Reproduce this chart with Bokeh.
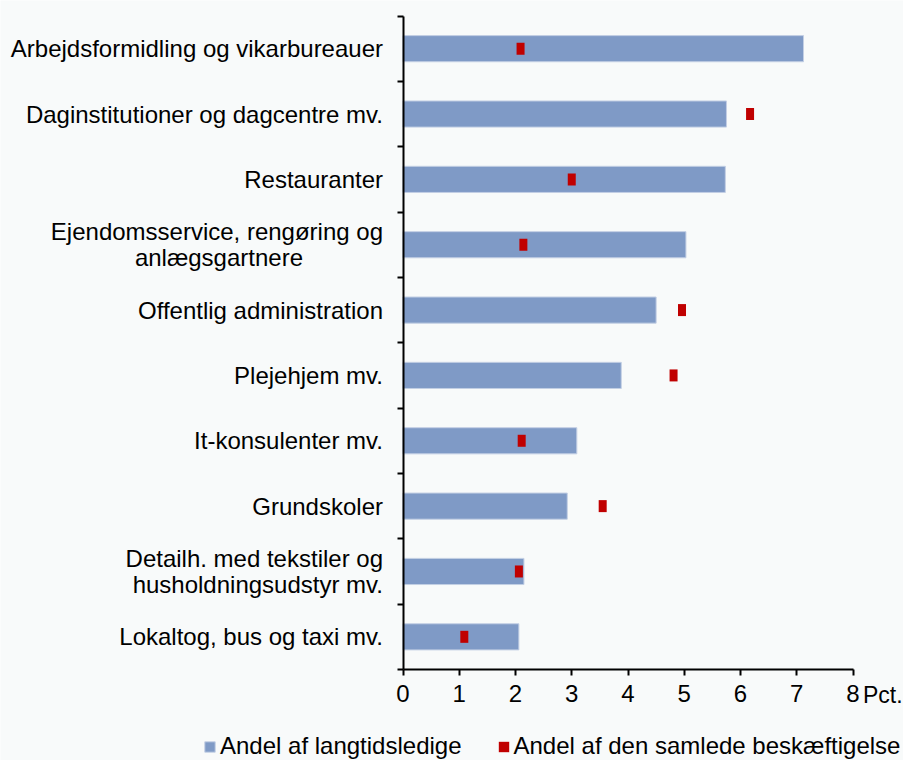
from bokeh.plotting import figure
from bokeh.models import (ColumnDataSource, FixedTicker, Legend, LegendItem, Label, Range1d)
from bokeh.embed import file_html
from bokeh.resources import INLINE

categories = [
    "Arbejdsformidling og vikarbureauer",
    "Daginstitutioner og dagcentre mv.",
    "Restauranter",
    "Ejendomsservice, rengøring og\nanlægsgartnere",
    "Offentlig administration",
    "Plejehjem mv.",
    "It-konsulenter mv.",
    "Grundskoler",
    "Detailh. med tekstiler og\nhusholdningsudstyr mv.",
    "Lokaltog, bus og taxi mv.",
]
langtidsledige = [7.12, 5.75, 5.73, 5.03, 4.50, 3.88, 3.09, 2.92, 2.15, 2.06]
beskaeftigelse = [2.09, 6.17, 3.00, 2.14, 4.96, 4.81, 2.11, 3.55, 2.06, 1.09]
x_ticks = [0, 1, 2, 3, 4, 5, 6, 7, 8]
x_unit = "Pct."
legend_labels = ["Andel af langtidsledige", "Andel af den samlede beskæftigelse"]

# ---- layout (pixels) ----
W, H = 903, 760
FRAME_L, FRAME_R, FRAME_T, FRAME_B = 402.5, 852.5, 15.5, 669.0
X0, X1 = 0.0, 8.0
n = len(categories)
Y0, Y1 = 0.5, n + 0.5
sx = (FRAME_R - FRAME_L) / (X1 - X0)
sy = (FRAME_B - FRAME_T) / (Y1 - Y0)
x_range = Range1d(X0 - FRAME_L / sx, X1 + (W - FRAME_R) / sx)
y_range = Range1d(Y0 - (H - FRAME_B) / sy, Y1 + FRAME_T / sy)

ypos = [n - i for i in range(n)]
# center the shorter second line of wrapped labels (right-aligned axis labels)
line_pad = {3: 12}
tick_text = {}
for i, (y, c) in enumerate(zip(ypos, categories)):
    tick_text[y] = c + "\u00a0" * line_pad.get(i, 0)

src = ColumnDataSource(dict(y=ypos, cat=categories, v1=langtidsledige, v2=beskaeftigelse))

BG = "#F8FAFA"
FONT = "Liberation Sans"
FS = "24px"

p = figure(width=W, height=H, output_backend="svg", toolbar_location=None,
           x_range=x_range, y_range=y_range,
           min_border=0, min_border_left=0, min_border_right=0, min_border_top=0, min_border_bottom=0)
p.background_fill_color = BG
p.border_fill_color = BG
p.outline_line_color = None
p.xgrid.visible = False
p.ygrid.visible = False

bars = p.hbar(y="y", right="v1", left=0, height=0.4, source=src,
              fill_color="#7F9AC6", line_color="#C3CFE4", line_width=1)
# marker: 8 px wide, 12 px tall
marks = p.rect(x="v2", y="y", width=8 / sx, height=12 / sy,
               source=src, fill_color="#C00000", line_color=None)

# x axis
xa = p.xaxis[0]
xa.fixed_location = Y0
xa.bounds = (X0, X1)
xa.ticker = FixedTicker(ticks=x_ticks)
xa.axis_line_width = 2
xa.axis_line_color = "black"
xa.major_tick_line_width = 2
xa.major_tick_out = 6
xa.major_tick_in = 0
xa.minor_tick_line_color = None
xa.major_label_text_font = FONT
xa.major_label_text_font_size = FS
xa.major_label_text_color = "black"
xa.major_label_standoff = 9

# y axis
ya = p.yaxis[0]
ya.fixed_location = X0
ya.bounds = (Y0, Y1)
ya.ticker = FixedTicker(ticks=ypos, minor_ticks=[y + 0.5 for y in range(n + 1)])
ya.major_label_overrides = tick_text
ya.axis_line_width = 2
ya.axis_line_color = "black"
ya.major_tick_line_color = None
ya.major_tick_out = 0
ya.major_tick_in = 0
ya.minor_tick_line_color = "black"
ya.minor_tick_line_width = 2
ya.minor_tick_out = 6
ya.minor_tick_in = 0
ya.major_label_text_font = FONT
ya.major_label_text_font_size = FS
ya.major_label_text_color = "black"
ya.major_label_text_line_height = 0.95
ya.major_label_standoff = 14

p.add_layout(Label(x=X1, y=Y0, x_offset=10, y_offset=-12, text=x_unit, text_font=FONT,
                   text_font_size="23px", text_color="black", text_baseline="top", text_align="left"))

legend = Legend(items=[LegendItem(label=legend_labels[0], renderers=[bars]),
                       LegendItem(label=legend_labels[1], renderers=[marks])],
                orientation="horizontal", location=(203, 0),
                label_text_font=FONT, label_text_font_size=FS, label_text_color="black",
                glyph_width=13, glyph_height=13, label_standoff=4, spacing=35,
                padding=0, margin=0, border_line_alpha=0, background_fill_alpha=0)
p.add_layout(legend, "center")

open("out.html", "w").write(file_html(p, INLINE))
